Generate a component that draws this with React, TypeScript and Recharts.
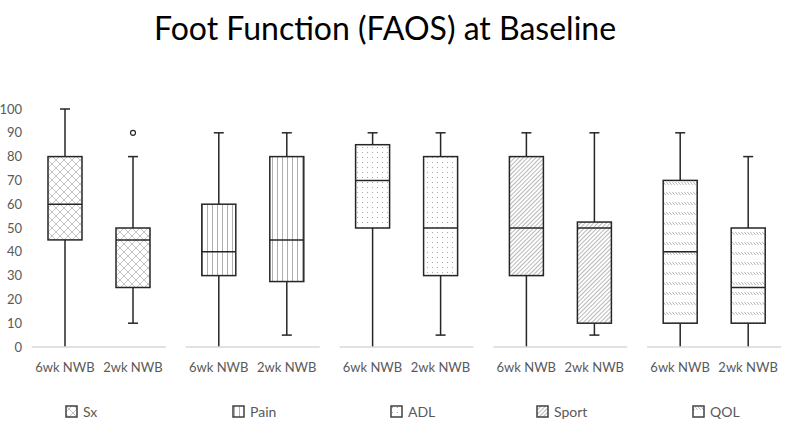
import { BarChart, Bar, XAxis, YAxis } from "recharts";

const categories = ["Sx", "Pain", "ADL", "Sport", "QOL"];
const groupLabels = ["6wk NWB", "2wk NWB"];
const yTicks = [0, 10, 20, 30, 40, 50, 60, 70, 80, 90, 100];

// 6 weeks non-weight-bearing
const wk6Min = [0, 0, 0, 0, 0];
const wk6Q1 = [45, 30, 50, 30, 10];
const wk6Median = [60, 40, 70, 50, 40];
const wk6Q3 = [80, 60, 85, 80, 70];
const wk6Max = [100, 90, 90, 90, 90];
const wk6Outliers: number[][] = [[], [], [], [], []];

// 2 weeks non-weight-bearing
const wk2Min = [10, 5, 5, 5, 0];
const wk2Q1 = [25, 27.5, 30, 10, 10];
const wk2Median = [45, 45, 50, 50, 25];
const wk2Q3 = [50, 80, 80, 52.5, 50];
const wk2Max = [80, 90, 90, 90, 80];
const wk2Outliers: number[][] = [[90], [], [], [], []];

const patternIds = ["patSx", "patPain", "patADL", "patSport", "patQOL"];

const data = categories.map((name, i) => ({
  name,
  idx: i,
  wk6: [wk6Min[i], wk6Max[i]],
  wk2: [wk2Min[i], wk2Max[i]],
  wk6Stats: { min: wk6Min[i], q1: wk6Q1[i], med: wk6Median[i], q3: wk6Q3[i], max: wk6Max[i], out: wk6Outliers[i] },
  wk2Stats: { min: wk2Min[i], q1: wk2Q1[i], med: wk2Median[i], q3: wk2Q3[i], max: wk2Max[i], out: wk2Outliers[i] },
}));

const BOX_W = 34;
const BOX_GAP = 34;
const INK = "#262626";
const MUTED = "#595959";
const FONT = "Lato, 'Open Sans', sans-serif";

const Patterns = () => (
  <defs>
    <pattern id="patSx" patternUnits="userSpaceOnUse" width={8} height={8}>
      <path d="M0,0 L8,8 M8,0 L0,8" stroke="#ababab" strokeWidth={0.7} />
    </pattern>
    <pattern id="patPain" patternUnits="userSpaceOnUse" width={5} height={5}>
      <line x1={2.5} y1={0} x2={2.5} y2={5} stroke="#a6a6a6" strokeWidth={0.9} />
    </pattern>
    <pattern id="patADL" patternUnits="userSpaceOnUse" width={5} height={5}>
      <circle cx={2.5} cy={2.5} r={0.6} fill="#999" />
    </pattern>
    <pattern id="patSport" patternUnits="userSpaceOnUse" width={3} height={3} patternTransform="rotate(45)">
      <line x1={1.5} y1={0} x2={1.5} y2={3} stroke="#a6a6a6" strokeWidth={0.8} />
    </pattern>
    <pattern id="patQOL" patternUnits="userSpaceOnUse" width={3} height={10}>
      <line x1={0.3} y1={2} x2={2.7} y2={5} stroke="#a6a6a6" strokeWidth={0.8} />
    </pattern>
  </defs>
);

const BoxShape = (props: any) => {
  const { x, y, width, height, payload, statKey } = props;
  const s = payload[statKey];
  const top = Math.min(y, y + height);
  const bottom = Math.max(y, y + height);
  const span = s.max - s.min || 1;
  const py = (v: number) => bottom - ((bottom - top) * (v - s.min)) / span;
  const cx = x + width / 2;
  const cap = 5;
  return (
    <g>
      <line x1={cx} x2={cx} y1={py(s.max)} y2={py(s.q3)} stroke={INK} strokeWidth={1.5} />
      <line x1={cx} x2={cx} y1={py(s.q1)} y2={py(s.min)} stroke={INK} strokeWidth={1.5} />
      <line x1={cx - cap} x2={cx + cap} y1={py(s.max)} y2={py(s.max)} stroke={INK} strokeWidth={1.5} />
      {s.min > 0 && (
        <line x1={cx - cap} x2={cx + cap} y1={py(s.min)} y2={py(s.min)} stroke={INK} strokeWidth={1.5} />
      )}
      <rect
        x={x}
        y={py(s.q3)}
        width={width}
        height={py(s.q1) - py(s.q3)}
        fill={`url(#${patternIds[payload.idx]})`}
        stroke={INK}
        strokeWidth={1.5}
      />
      <line x1={x} x2={x + width} y1={py(s.med)} y2={py(s.med)} stroke={INK} strokeWidth={1.5} />
      {s.out.map((o: number, k: number) => (
        <circle key={k} cx={cx} cy={py(o)} r={2.5} fill="#fff" stroke={INK} strokeWidth={1.2} />
      ))}
    </g>
  );
};

const GroupTick = (props: any) => {
  const { x, y } = props;
  const off = (BOX_W + BOX_GAP) / 2;
  return (
    <g>
      <line x1={x - 67} x2={x + 67} y1={y} y2={y} stroke="#d9d9d9" strokeWidth={1.5} />
      {groupLabels.map((t, k) => (
        <text
          key={t}
          x={x + (k === 0 ? -off : off)}
          y={y + 25}
          textAnchor="middle"
          fill={MUTED}
          fontSize={13}
          fontFamily={FONT}
        >
          {t}
        </text>
      ))}
    </g>
  );
};

const legendLeft = [65, 232, 390, 536, 692];

export default function App() {
  return (
    <div
      style={{
        position: "absolute",
        left: 0,
        top: 0,
        width: 787,
        height: 427,
        overflow: "hidden",
        background: "#fff",
        fontFamily: FONT,
      }}
    >
      <div
        style={{
          position: "absolute",
          top: 9,
          left: 0,
          width: 770,
          textAlign: "center",
          fontSize: 32,
          lineHeight: 1.2,
          color: "#000",
        }}
      >
        Foot Function (FAOS) at Baseline
      </div>
      <div style={{ position: "absolute", top: 0, left: 0 }}>
        <BarChart
          width={791}
          height={380}
          data={data}
          margin={{ top: 109, right: 0, left: 0, bottom: 3 }}
          barSize={BOX_W}
          barGap={BOX_GAP}
        >
          <Patterns />
          <YAxis
            domain={[0, 100]}
            ticks={yTicks}
            width={22}
            axisLine={false}
            tickLine={false}
            tickSize={0}
            tickMargin={0}
            interval={0}
            tick={{ fill: MUTED, fontSize: 13, fontFamily: FONT }}
          />
          <XAxis
            dataKey="name"
            height={30}
            axisLine={false}
            tickLine={false}
            tickSize={0}
            tickMargin={0}
            interval={0}
            tick={<GroupTick />}
          />
          <Bar
            dataKey="wk6"
            isAnimationActive={false}
            shape={(p: any) => <BoxShape {...p} statKey="wk6Stats" />}
          />
          <Bar
            dataKey="wk2"
            isAnimationActive={false}
            shape={(p: any) => <BoxShape {...p} statKey="wk2Stats" />}
          />
        </BarChart>
      </div>
      {categories.map((c, i) => (
        <div
          key={c}
          style={{
            position: "absolute",
            left: legendLeft[i],
            top: 403,
            display: "flex",
            alignItems: "center",
            fontSize: 14,
            color: MUTED,
          }}
        >
          <svg width={13} height={13} style={{ marginRight: 5 }}>
            <rect x={1} y={1} width={11} height={11} fill={`url(#${patternIds[i]})`} stroke="#404040" strokeWidth={1.5} />
          </svg>
          <span>{c}</span>
        </div>
      ))}
    </div>
  );
}
